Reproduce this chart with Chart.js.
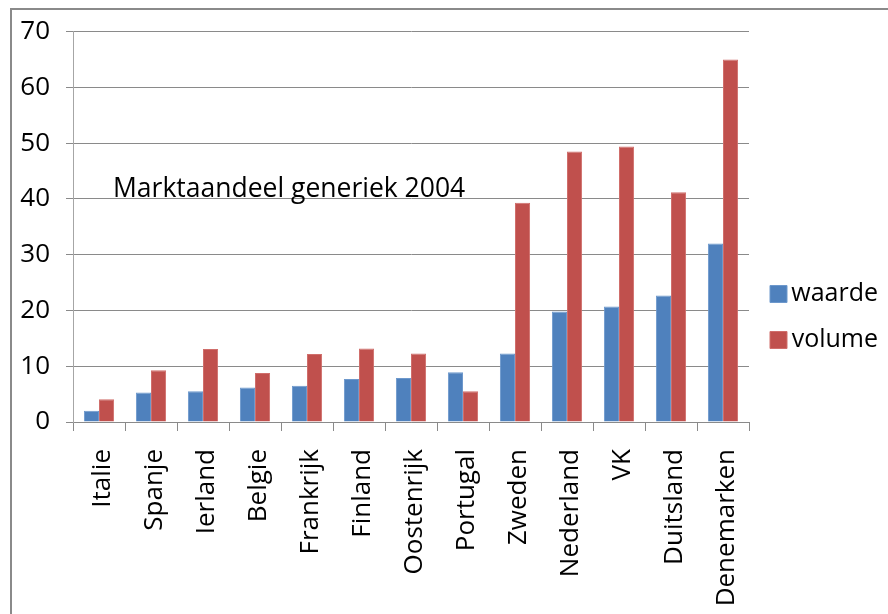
<!DOCTYPE html>
<html>
<head>
<meta charset="utf-8">
<title>Marktaandeel generiek 2004</title>
<script src="https://cdn.jsdelivr.net/npm/chart.js@4.4.1/dist/chart.umd.min.js"></script>
<style>
    html, body { margin: 0; padding: 0; background: #fff; }
    #frame {
        position: absolute; left: 10px; top: 8px; width: 900px; height: 620px;
        border-left: 2px solid #8a8a8a; border-top: 2px solid #8a8a8a;
    }
    #wrap { position: absolute; left: 0; top: 0; width: 888px; height: 614px; }
</style>
</head>
<body>
<div id="frame"></div>
<div id="wrap"><canvas id="marktChart" width="888" height="614"></canvas></div>
<script>
// landen en marktaandeel generieke geneesmiddelen (%)
var landen = ['Italie', 'Spanje', 'Ierland', 'Belgie', 'Frankrijk', 'Finland', 'Oostenrijk',
    'Portugal', 'Zweden', 'Nederland', 'VK', 'Duitsland', 'Denemarken'];
var waarde = [2.0, 5.3, 5.5, 6.2, 6.5, 7.7, 7.9, 8.9, 12.3, 19.8, 20.7, 22.7, 32.0];
var volume = [4.1, 9.3, 13.1, 8.8, 12.2, 13.2, 12.3, 5.5, 39.3, 48.5, 49.4, 41.2, 65.0];
var yTicks = [0, 10, 20, 30, 40, 50, 60, 70];

var titel = 'Marktaandeel generiek 2004';
var lettertype = "'Open Sans', sans-serif";

// titel staat binnen het grafiekvlak, net boven de lijn van 40
var titelPlugin = {
    id: 'titelInVlak',
    afterDraw: function (chart) {
        var ctx = chart.ctx;
        var y = chart.scales.y.getPixelForValue(40.3);
        ctx.save();
        ctx.font = '26.5px ' + lettertype;
        ctx.fillStyle = '#000';
        ctx.textBaseline = 'alphabetic';
        ctx.fillText(titel, chart.chartArea.left + 40, y);
        ctx.restore();
    }
};

new Chart(document.getElementById('marktChart'), {
    type: 'bar',
    data: {
        labels: landen,
        datasets: [
            {
                label: 'waarde',
                data: waarde,
                backgroundColor: '#4f81bd',
                borderColor: '#6d98cc',
                borderWidth: 1
            },
            {
                label: 'volume',
                data: volume,
                backgroundColor: '#c0504d',
                borderColor: '#d06e6b',
                borderWidth: 1
            }
        ]
    },
    options: {
        responsive: false,
        animation: false,
        devicePixelRatio: 1,
        layout: { padding: { top: 20, right: 10, bottom: 0, left: 0 } },
        datasets: {
            bar: { categoryPercentage: 0.58, barPercentage: 1 }
        },
        plugins: {
            title: { display: false },
            tooltip: { enabled: false },
            legend: {
                position: 'right',
                align: 'center',
                maxWidth: 129,
                labels: {
                    boxWidth: 17,
                    boxHeight: 17,
                    padding: 21,
                    textAlign: 'right',
                    color: '#000',
                    font: { family: lettertype, size: 25 }
                }
            }
        },
        scales: {
            x: {
                grid: { drawOnChartArea: false, offset: true, tickLength: 9, color: '#8a8a8a' },
                border: { color: '#8a8a8a' },
                ticks: {
                    minRotation: 90,
                    maxRotation: 90,
                    autoSkip: false,
                    padding: 18,
                    labelOffset: 4,
                    color: '#000',
                    font: { family: lettertype, size: 26 }
                },
                afterFit: function (scale) { scale.height = 192; }
            },
            y: {
                min: 0,
                max: 70,
                afterBuildTicks: function (scale) {
                    scale.ticks = yTicks.map(function (v) { return { value: v }; });
                },
                grid: { color: '#8a8a8a', tickLength: 7 },
                border: { color: '#a6a6a6' },
                ticks: {
                    padding: 16,
                    color: '#000',
                    font: { family: lettertype, size: 26 }
                },
                afterFit: function (scale) { scale.width = 73; }
            }
        }
    },
    plugins: [titelPlugin]
});
</script>
</body>
</html>
